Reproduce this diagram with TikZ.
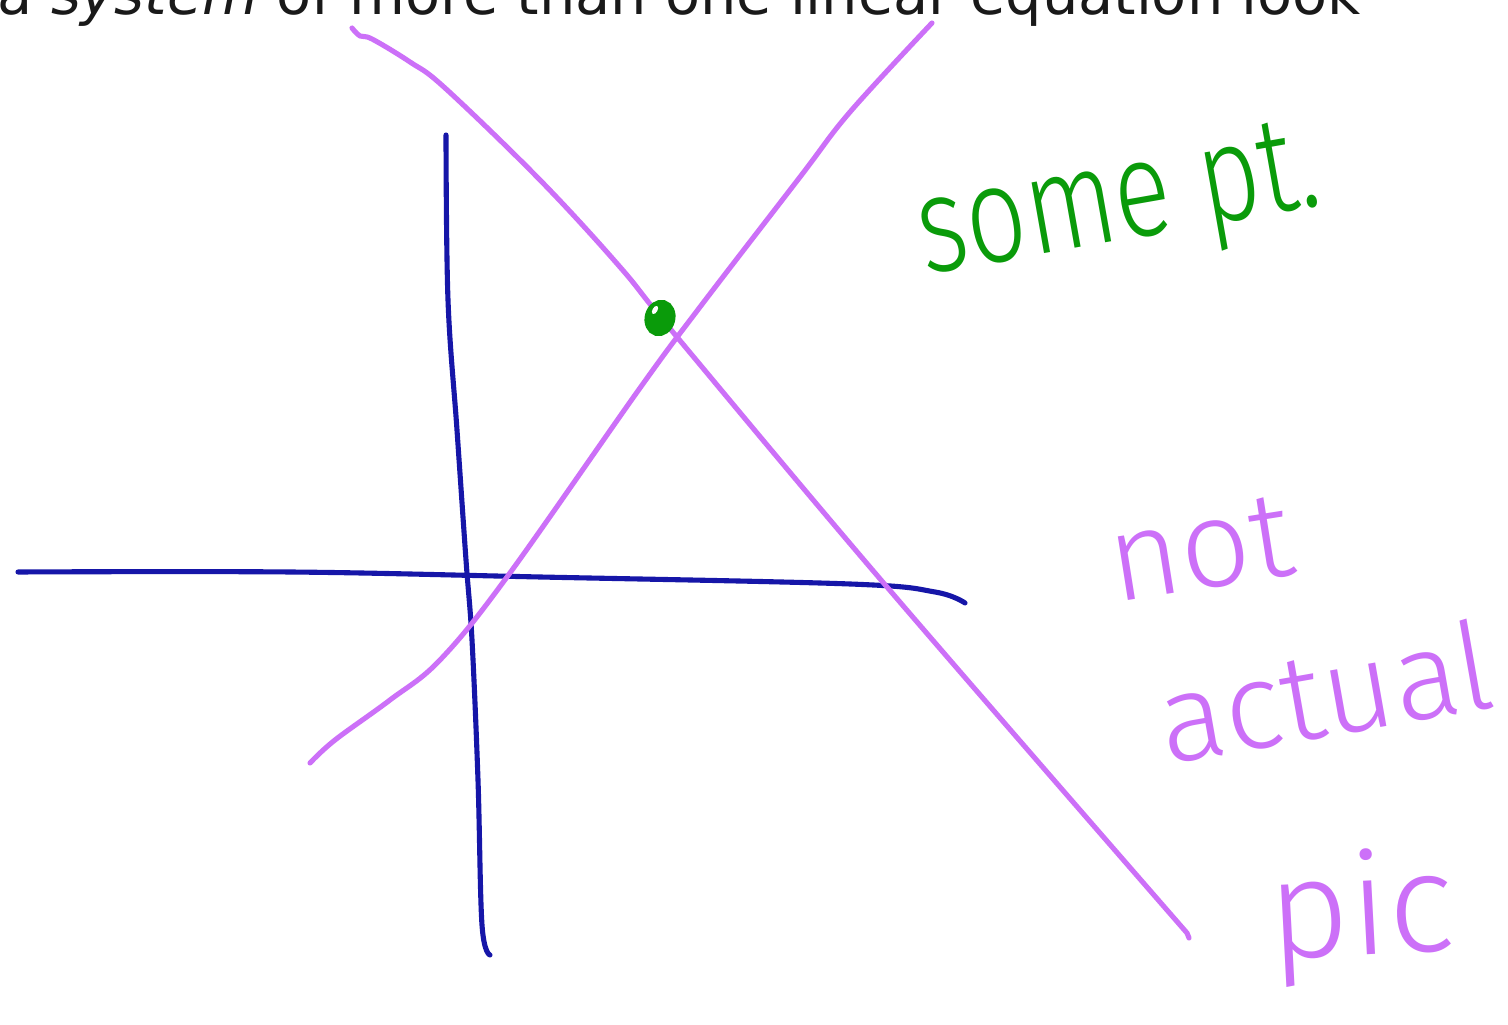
\documentclass[tikz,border=0pt]{standalone}
\usepackage{fontspec}
\newfontfamily\topfont{DejaVu Sans}
\newfontfamily\hand{Fira Sans Light}
\definecolor{axisblue}{RGB}{22,22,168}
\definecolor{violetline}{RGB}{204,112,248}
\definecolor{ptgreen}{RGB}{10,155,10}
\tikzset{
  axisstroke/.style={draw=axisblue, line width=1.45pt, line cap=round, line join=round},
  linestroke/.style={draw=violetline, line width=1.45pt, line cap=round, line join=round},
  pinkword/.style={text=violetline, anchor=base west, inner sep=0pt, font=\hand\fontsize{35}{40}\selectfont},
  greenword/.style={text=ptgreen, anchor=base west, inner sep=0pt, font=\hand\fontsize{30}{36}\selectfont},
  topline/.style={text=black!90, anchor=base west, inner sep=0pt, font=\topfont\fontsize{16.3}{19}\selectfont}
}
\begin{document}
\begin{tikzpicture}[x=0.01cm,y=-0.01cm]
\useasboundingbox (0,0) rectangle (1508,1025);
\clip (0,0) rectangle (1508,1025);
\fill[white] (0,0) rectangle (1508,1025);
% cut-off heading line
\node[topline] (heading) at (-3,15) {a \textit{system} of more than one linear equation look};
% axes
\draw[axisstroke] plot[smooth, tension=0.6] coordinates {(446,135) (448,300) (457,430) (466,560) (472,640) (478,780) (482,925) (490,955)};
\draw[axisstroke] plot[smooth, tension=0.6] coordinates {(18,572) (290,572) (540,577) (850,584) (935,592) (965,603)};
% lines
\draw[linestroke] plot[smooth, tension=0.6] coordinates {(352,28) (360,36) (372,39) (410,62) (445,88) (540,180) (620,267) (677,337) (887,587) (1187,933)} -- (1189,938);
\draw[linestroke] plot[smooth, tension=0.6] coordinates {(310,763) (335,740) (390,700) (440,660) (507,577) (640,388) (700,307) (800,177) (850,112) (932,23)};
% point
\draw[draw=ptgreen, fill=ptgreen, line width=1.9pt, rotate around={-15:(660,318)}] (660,318) ellipse [x radius=12, y radius=15];
\fill[white, rotate around={-30:(655,310)}] (655,310) ellipse [x radius=2.5, y radius=4.5];
% labels
\node[greenword, rotate=10] (somept) at (925,275) {\scalebox{1}[1.3]{some pt.}};
\node[pinkword, rotate=9] (wnot) at (1115,603) {not};
\node[pinkword, rotate=10] (wactual) at (1166,765) {actual};
\node[pinkword, rotate=3, font=\hand\fontsize{40}{44}\selectfont] (wpic) at (1270,960) {pic};
\end{tikzpicture}
\end{document}
